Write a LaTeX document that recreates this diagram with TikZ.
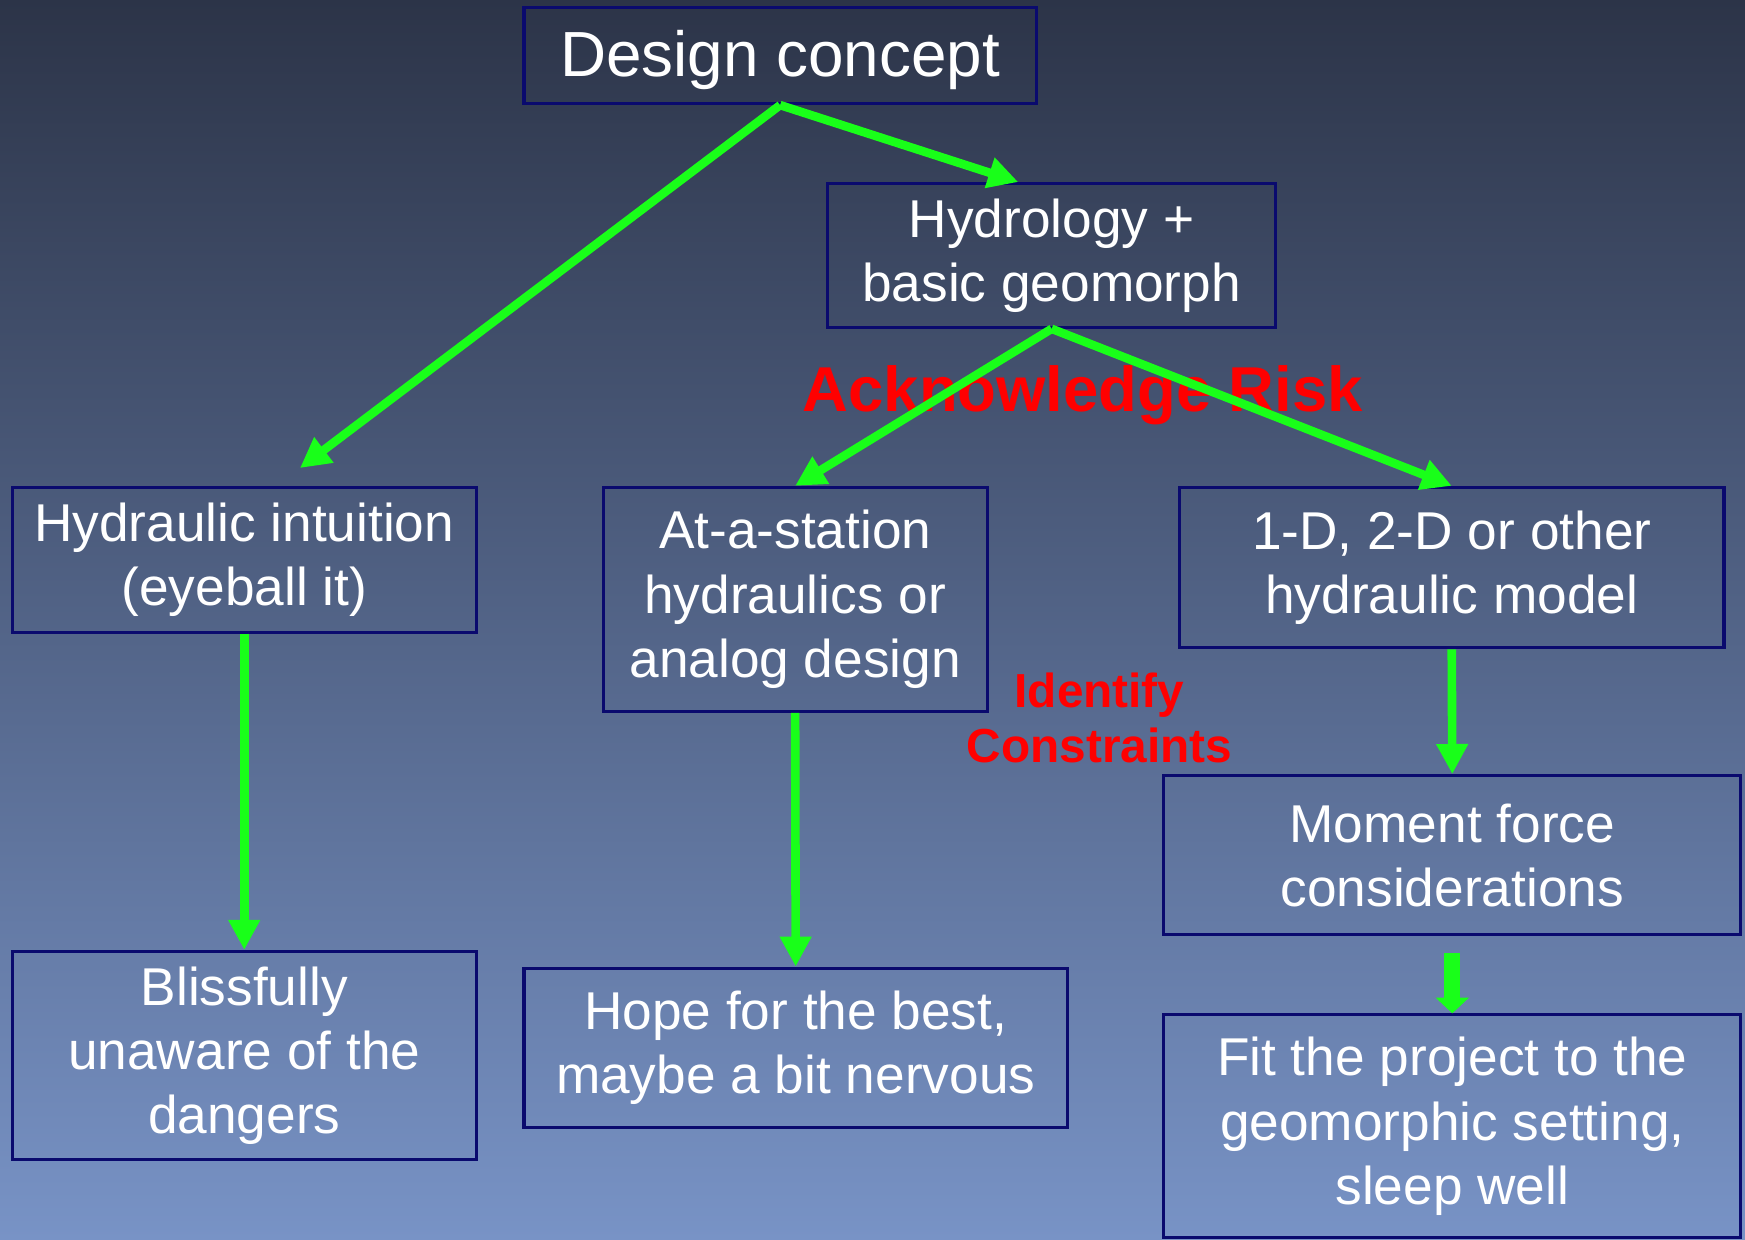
\documentclass[tikz,border=0pt]{standalone}
\usepackage{fontspec}
\setmainfont{Liberation Sans}
\usetikzlibrary{arrows.meta}
\definecolor{bgtop}{HTML}{2C3448}
\definecolor{bgmid}{HTML}{62759F}
\definecolor{bgbot}{HTML}{7893C6}
\definecolor{boxline}{HTML}{0A0A6E}
\definecolor{arrgreen}{HTML}{19FF19}

\begin{document}
\begin{tikzpicture}[x=0.01cm, y=-0.01cm]
		\tikzset{bx/.style={draw=boxline, line width=0.8pt, text=white, align=center, inner sep=0pt, font=\fontsize{13.6}{16.4}\selectfont, execute at begin node={\rule{0pt}{14pt}}},
			arr/.style={draw=arrgreen, line width=2.2pt, -{Triangle[width=0.27cm, length=0.27cm]}},
			risk/.style={text=red, align=center, font=\bfseries\fontsize{16.2}{19}\selectfont}};

		\useasboundingbox (0,0) rectangle (1568,1114);
		\fill[top color=bgtop, middle color=bgmid, bottom color=bgbot] (0,0) rectangle (1568,1114);

		\node[bx, minimum width=4.6cm, minimum height=0.86cm, font=\fontsize{16.3}{19}\selectfont] (design) at (701,50) {Design concept};
		\node[bx, minimum width=4.02cm, minimum height=1.29cm] (hydro) at (945,229.5) {Hydrology +\\basic geomorph};
		\node[bx, minimum width=4.17cm, minimum height=1.30cm] (intuit) at (219.5,503) {Hydraulic intuition\\(eyeball it)};
		\node[bx, minimum width=3.45cm, minimum height=2.01cm] (station) at (714.5,538.5) {At-a-station\\hydraulics or\\analog design};
		\node[bx, minimum width=4.89cm, minimum height=1.44cm] (model) at (1304.5,510) {1-D, 2-D or other\\hydraulic model};
		\node[bx, minimum width=5.18cm, minimum height=1.43cm] (moment) at (1305,768.5) {Moment force\\considerations};
		\node[bx, minimum width=4.17cm, minimum height=1.87cm] (bliss) at (219.5,948.5) {Blissfully\\unaware of the\\dangers};
		\node[bx, minimum width=4.88cm, minimum height=1.43cm] (hope) at (715,941.5) {Hope for the best,\\maybe a bit nervous};
		\node[bx, minimum width=5.18cm, minimum height=2.00cm] (fit) at (1305,1012) {Fit the project to the\\geomorphic setting,\\sleep well};

		\node[risk] (ackrisk) at (973,355) {Acknowledge Risk};
		\node[risk, font=\bfseries\fontsize{12.2}{14.2}\selectfont] (constr) at (988,645) {Identify\\Constraints};

		\draw[arr] (design.south) -- ([xshift=0.5cm, yshift=0.16cm]intuit.north);
		\draw[arr] (design.south) -- ([xshift=-0.3cm]hydro.north);

		\draw[arr] (hydro.south) -- (station.north);
		\draw[arr] (hydro.south) -- (model.north);

		\draw[arr] (intuit.south) -- (bliss.north);
		\draw[arr] (station.south) -- (hope.north);
		\draw[arr] (model.south) -- (moment.north);

		\draw[arr, line width=4.1pt, -{Triangle[width=0.29cm, length=0.14cm]}, shorten <=0.15cm] (moment.south) -- (fit.north);
	\end{tikzpicture}
\end{document}
